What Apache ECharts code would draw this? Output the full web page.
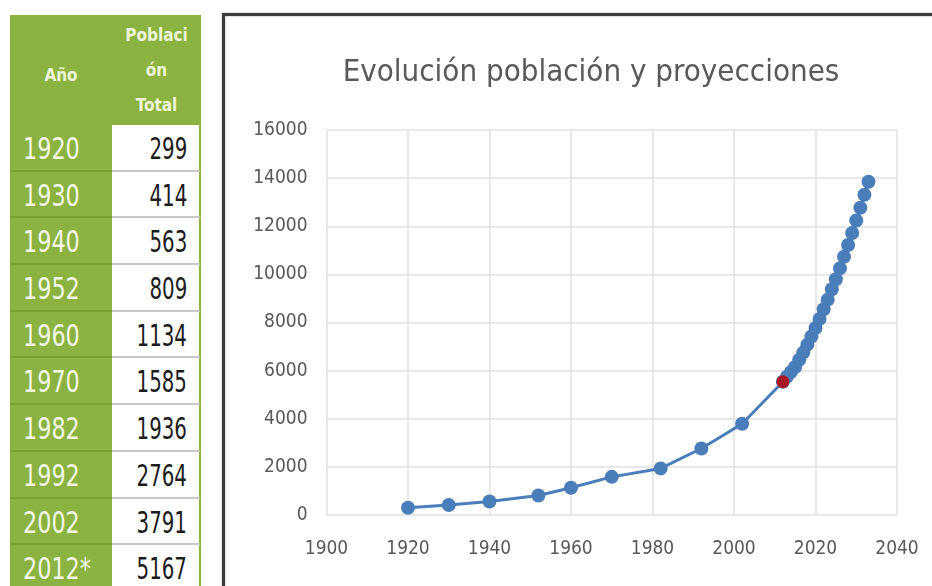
<!DOCTYPE html>
<html lang="es">
<head>
<meta charset="utf-8">
<style>
  body { margin: 0; background: #fff; width: 932px; height: 586px; overflow: hidden; position: relative; }
  #tabla { position: absolute; left: 10px; top: 15px; width: 191px; font-family: 'DejaVu Sans Condensed', 'DejaVu Sans', sans-serif; }
  .fila { display: flex; height: 46.7px; }
  .anio { width: 102px; background: #8cb342; color: #f3f8e6; font-size: 31px; line-height: 46px; padding-left: 13px; box-sizing: border-box; border-bottom: 2px solid #7aa033; white-space: nowrap; }
  .anio span { display: inline-block; transform: scaleX(0.8); transform-origin: left center; }
  .valor { width: 89px; background: #fff; color: #1c1c1c; font-size: 31px; line-height: 46px; text-align: right; padding-right: 12px; box-sizing: border-box; border-bottom: 2px solid #c8c8c8; border-right: 2px solid #8cb342; white-space: nowrap; }
  .valor span { display: inline-block; transform: scaleX(0.71); transform-origin: right center; }
  .cab { display: flex; height: 110px; background: #8cb342; color: #eef5d8; font-weight: bold; font-size: 17px; }
  .cab div { display: flex; align-items: center; justify-content: center; text-align: center; }
  #container { position: absolute; left: 0; top: 0; width: 932px; height: 586px; }
</style>
</head>
<body>
<div id="tabla"></div>
<div id="container"></div>
<script src="https://cdn.jsdelivr.net/npm/echarts@6/dist/echarts.min.js"></script>
<script>
// tabla de la izquierda
var tablaAnios = ['1920', '1930', '1940', '1952', '1960', '1970', '1982', '1992', '2002', '2012*'];
var tablaPoblacion = [299, 414, 563, 809, 1134, 1585, 1936, 2764, 3791, 5167];

// puntos del grafico
var aniosCenso = [1920, 1930, 1940, 1952, 1960, 1970, 1982, 1992, 2002];
var poblacionCenso = [299, 414, 563, 809, 1134, 1585, 1936, 2764, 3791];
var anioBase = [2012];
var poblacionBase = [5540];
var aniosProy = [2013, 2014, 2015, 2016, 2017, 2018, 2019, 2020, 2021, 2022, 2023,
                 2024, 2025, 2026, 2027, 2028, 2029, 2030, 2031, 2032, 2033];
var poblacionProy = [5750, 5950, 6150, 6450, 6750, 7080, 7420, 7770, 8150, 8550, 8950,
                     9380, 9800, 10250, 10730, 11220, 11720, 12240, 12770, 13310, 13850];

var ejeX = { min: 1900, max: 2040, interval: 20 };
var ejeY = { min: 0, max: 16000, interval: 2000 };

var html = '<div class="cab"><div style="width:102px;padding-top:10px">Año</div>' +
    '<div style="width:89px;line-height:35px">Poblaci<br>ón<br>Total</div></div>';
for (var i = 0; i < tablaAnios.length; i++) {
    html += '<div class="fila"><div class="anio"><span>' + tablaAnios[i] + '</span></div>' +
        '<div class="valor"><span>' + tablaPoblacion[i] + '</span></div></div>';
}
document.getElementById('tabla').innerHTML = html;

var puntos = [];
aniosCenso.forEach(function (a, i) { puntos.push([a, poblacionCenso[i]]); });
anioBase.forEach(function (a, i) { puntos.push([a, poblacionBase[i]]); });
aniosProy.forEach(function (a, i) { puntos.push([a, poblacionProy[i]]); });

var fuente = "'DejaVu Sans Condensed', 'DejaVu Sans', sans-serif";
var myChart = echarts.init(document.getElementById('container'), null, { renderer: 'canvas' });

var option = {
    animation: false,
    title: {
        text: 'Evolución población y proyecciones',
        left: 591,
        textAlign: 'center',
        top: 57,
        padding: 0,
        textStyle: { fontFamily: fuente, fontSize: 31, fontWeight: 'normal', color: '#595959' }
    },
    graphic: [{
        type: 'rect',
        shape: { x: 223.5, y: 14.5, width: 800, height: 700 },
        style: { fill: 'none', stroke: '#3c3c3c', lineWidth: 3, shadowBlur: 2, shadowColor: 'rgba(0,0,0,0.4)' },
        silent: true
    }],
    grid: { left: 326.5, right: 35, top: 130, bottom: 71 },
    xAxis: {
        type: 'value',
        min: ejeX.min, max: ejeX.max, interval: ejeX.interval,
        axisLine: { show: false },
        axisTick: { show: false },
        splitLine: { show: true, lineStyle: { color: '#e0e0e0', width: 1.5 } },
        axisLabel: { margin: 25, fontFamily: fuente, fontSize: 19, color: '#595959',
            formatter: function (v) { return String(v); } }
    },
    yAxis: {
        type: 'value',
        min: ejeY.min, max: ejeY.max, interval: ejeY.interval,
        axisLine: { show: false },
        axisTick: { show: false },
        splitLine: { show: true, lineStyle: { color: '#e0e0e0', width: 1.5 } },
        axisLabel: { margin: 19, fontFamily: fuente, fontSize: 19, color: '#595959',
            formatter: function (v) { return String(v); } }
    },
    series: [
        {
            type: 'line',
            data: puntos,
            symbol: 'circle',
            symbolSize: 14,
            itemStyle: { color: '#4a7ebb' },
            lineStyle: { color: '#4a7ebb', width: 3 },
            z: 2
        },
        {
            type: 'scatter',
            data: anioBase.map(function (a, i) { return [a, poblacionBase[i]]; }),
            symbol: 'circle',
            symbolSize: 13,
            itemStyle: { color: '#c00000' },
            z: 3
        }
    ]
};

myChart.setOption(option);
window.addEventListener('resize', myChart.resize);
</script>
</body>
</html>
